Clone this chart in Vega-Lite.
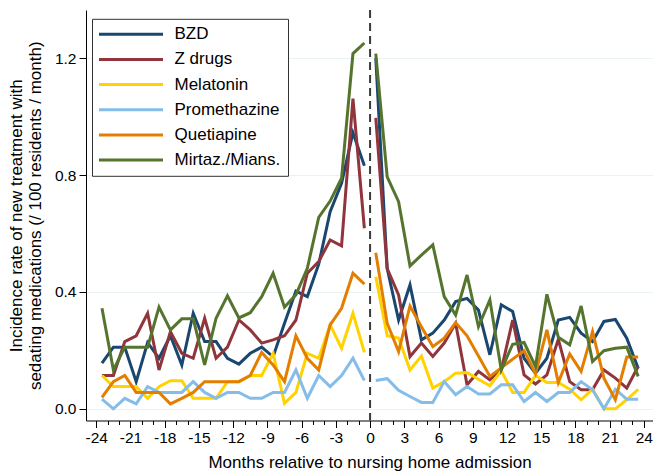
{
"$schema":"https://vega.github.io/schema/vega-lite/v6.json",
"width":567,"height":410.5,
"autosize":{"type":"none"},
"padding":{"left":86,"top":10,"right":0,"bottom":50},
"background":"white",
"config":{"view":{"stroke":null},"font":"Liberation Sans"},
"resolve":{"axis":{"x":"independent"}},
"layer":[
{"data":{"values":[{"x":0}]},"mark":{"type":"rule","strokeDash":[8,5],"strokeWidth":2,"color":"#3a3a3a"},"encoding":{"x":{"field":"x","type":"quantitative","scale":{"domain":[-24.9,24.8],"nice":false,"zero":false},"axis":{"orient":"bottom","title":null,"labels":false,"domain":false,"grid":false,"tickSize":4,"tickColor":"#000","values":[-24,-23,-22,-21,-20,-19,-18,-17,-16,-15,-14,-13,-12,-11,-10,-9,-8,-7,-6,-5,-4,-3,-2,-1,0,1,2,3,4,5,6,7,8,9,10,11,12,13,14,15,16,17,18,19,20,21,22,23,24]}}}},
{"data":{"values":[
{"s":"BZD","p":0,"m":-23.5,"v":0.156},{"s":"BZD","p":0,"m":-22.5,"v":0.211},{"s":"BZD","p":0,"m":-21.5,"v":0.211},{"s":"BZD","p":0,"m":-20.5,"v":0.093},{"s":"BZD","p":0,"m":-19.5,"v":0.227},{"s":"BZD","p":0,"m":-18.5,"v":0.173},{"s":"BZD","p":0,"m":-17.5,"v":0.250},{"s":"BZD","p":0,"m":-16.5,"v":0.150},{"s":"BZD","p":0,"m":-15.5,"v":0.327},{"s":"BZD","p":0,"m":-14.5,"v":0.230},{"s":"BZD","p":0,"m":-13.5,"v":0.230},{"s":"BZD","p":0,"m":-12.5,"v":0.173},{"s":"BZD","p":0,"m":-11.5,"v":0.153},{"s":"BZD","p":0,"m":-10.5,"v":0.190},{"s":"BZD","p":0,"m":-9.5,"v":0.211},{"s":"BZD","p":0,"m":-8.5,"v":0.178},{"s":"BZD","p":0,"m":-7.5,"v":0.293},{"s":"BZD","p":0,"m":-6.5,"v":0.403},{"s":"BZD","p":0,"m":-5.5,"v":0.384},{"s":"BZD","p":0,"m":-4.5,"v":0.495},{"s":"BZD","p":0,"m":-3.5,"v":0.675},{"s":"BZD","p":0,"m":-2.5,"v":0.772},{"s":"BZD","p":0,"m":-1.5,"v":0.945},{"s":"BZD","p":0,"m":-0.5,"v":0.832},
{"s":"BZD","p":1,"m":0.5,"v":1.20},{"s":"BZD","p":1,"m":1.5,"v":0.48},{"s":"BZD","p":1,"m":2.5,"v":0.304},{"s":"BZD","p":1,"m":3.5,"v":0.424},{"s":"BZD","p":1,"m":4.5,"v":0.236},{"s":"BZD","p":1,"m":5.5,"v":0.259},{"s":"BZD","p":1,"m":6.5,"v":0.304},{"s":"BZD","p":1,"m":7.5,"v":0.367},{"s":"BZD","p":1,"m":8.5,"v":0.378},{"s":"BZD","p":1,"m":9.5,"v":0.338},{"s":"BZD","p":1,"m":10.5,"v":0.185},{"s":"BZD","p":1,"m":11.5,"v":0.356},{"s":"BZD","p":1,"m":12.5,"v":0.333},{"s":"BZD","p":1,"m":13.5,"v":0.173},{"s":"BZD","p":1,"m":14.5,"v":0.122},{"s":"BZD","p":1,"m":15.5,"v":0.173},{"s":"BZD","p":1,"m":16.5,"v":0.304},{"s":"BZD","p":1,"m":17.5,"v":0.313},{"s":"BZD","p":1,"m":18.5,"v":0.259},{"s":"BZD","p":1,"m":19.5,"v":0.230},{"s":"BZD","p":1,"m":20.5,"v":0.299},{"s":"BZD","p":1,"m":21.5,"v":0.306},{"s":"BZD","p":1,"m":22.5,"v":0.242},{"s":"BZD","p":1,"m":23.5,"v":0.139},
{"s":"Z drugs","p":0,"m":-23.5,"v":0.114},{"s":"Z drugs","p":0,"m":-22.5,"v":0.114},{"s":"Z drugs","p":0,"m":-21.5,"v":0.230},{"s":"Z drugs","p":0,"m":-20.5,"v":0.250},{"s":"Z drugs","p":0,"m":-19.5,"v":0.327},{"s":"Z drugs","p":0,"m":-18.5,"v":0.133},{"s":"Z drugs","p":0,"m":-17.5,"v":0.264},{"s":"Z drugs","p":0,"m":-16.5,"v":0.190},{"s":"Z drugs","p":0,"m":-15.5,"v":0.173},{"s":"Z drugs","p":0,"m":-14.5,"v":0.310},{"s":"Z drugs","p":0,"m":-13.5,"v":0.173},{"s":"Z drugs","p":0,"m":-12.5,"v":0.211},{"s":"Z drugs","p":0,"m":-11.5,"v":0.304},{"s":"Z drugs","p":0,"m":-10.5,"v":0.270},{"s":"Z drugs","p":0,"m":-9.5,"v":0.225},{"s":"Z drugs","p":0,"m":-8.5,"v":0.236},{"s":"Z drugs","p":0,"m":-7.5,"v":0.250},{"s":"Z drugs","p":0,"m":-6.5,"v":0.304},{"s":"Z drugs","p":0,"m":-5.5,"v":0.464},{"s":"Z drugs","p":0,"m":-4.5,"v":0.504},{"s":"Z drugs","p":0,"m":-3.5,"v":0.578},{"s":"Z drugs","p":0,"m":-2.5,"v":0.558},{"s":"Z drugs","p":0,"m":-1.5,"v":1.062},{"s":"Z drugs","p":0,"m":-0.5,"v":0.618},
{"s":"Z drugs","p":1,"m":0.5,"v":0.996},{"s":"Z drugs","p":1,"m":1.5,"v":0.48},{"s":"Z drugs","p":1,"m":2.5,"v":0.390},{"s":"Z drugs","p":1,"m":3.5,"v":0.179},{"s":"Z drugs","p":1,"m":4.5,"v":0.225},{"s":"Z drugs","p":1,"m":5.5,"v":0.179},{"s":"Z drugs","p":1,"m":6.5,"v":0.225},{"s":"Z drugs","p":1,"m":7.5,"v":0.293},{"s":"Z drugs","p":1,"m":8.5,"v":0.082},{"s":"Z drugs","p":1,"m":9.5,"v":0.128},{"s":"Z drugs","p":1,"m":10.5,"v":0.099},{"s":"Z drugs","p":1,"m":11.5,"v":0.133},{"s":"Z drugs","p":1,"m":12.5,"v":0.304},{"s":"Z drugs","p":1,"m":13.5,"v":0.116},{"s":"Z drugs","p":1,"m":14.5,"v":0.085},{"s":"Z drugs","p":1,"m":15.5,"v":0.116},{"s":"Z drugs","p":1,"m":16.5,"v":0.238},{"s":"Z drugs","p":1,"m":17.5,"v":0.093},{"s":"Z drugs","p":1,"m":18.5,"v":0.065},{"s":"Z drugs","p":1,"m":19.5,"v":0.065},{"s":"Z drugs","p":1,"m":20.5,"v":0.133},{"s":"Z drugs","p":1,"m":21.5,"v":0.105},{"s":"Z drugs","p":1,"m":22.5,"v":0.071},{"s":"Z drugs","p":1,"m":23.5,"v":0.145},
{"s":"Melatonin","p":0,"m":-23.5,"v":0.114},{"s":"Melatonin","p":0,"m":-22.5,"v":0.076},{"s":"Melatonin","p":0,"m":-21.5,"v":0.076},{"s":"Melatonin","p":0,"m":-20.5,"v":0.076},{"s":"Melatonin","p":0,"m":-19.5,"v":0.036},{"s":"Melatonin","p":0,"m":-18.5,"v":0.076},{"s":"Melatonin","p":0,"m":-17.5,"v":0.096},{"s":"Melatonin","p":0,"m":-16.5,"v":0.096},{"s":"Melatonin","p":0,"m":-15.5,"v":0.036},{"s":"Melatonin","p":0,"m":-14.5,"v":0.036},{"s":"Melatonin","p":0,"m":-13.5,"v":0.036},{"s":"Melatonin","p":0,"m":-12.5,"v":0.093},{"s":"Melatonin","p":0,"m":-11.5,"v":0.093},{"s":"Melatonin","p":0,"m":-10.5,"v":0.114},{"s":"Melatonin","p":0,"m":-9.5,"v":0.114},{"s":"Melatonin","p":0,"m":-8.5,"v":0.190},{"s":"Melatonin","p":0,"m":-7.5,"v":0.019},{"s":"Melatonin","p":0,"m":-6.5,"v":0.056},{"s":"Melatonin","p":0,"m":-5.5,"v":0.190},{"s":"Melatonin","p":0,"m":-4.5,"v":0.173},{"s":"Melatonin","p":0,"m":-3.5,"v":0.287},{"s":"Melatonin","p":0,"m":-2.5,"v":0.207},{"s":"Melatonin","p":0,"m":-1.5,"v":0.327},{"s":"Melatonin","p":0,"m":-0.5,"v":0.193},
{"s":"Melatonin","p":1,"m":0.5,"v":0.452},{"s":"Melatonin","p":1,"m":1.5,"v":0.250},{"s":"Melatonin","p":1,"m":2.5,"v":0.242},{"s":"Melatonin","p":1,"m":3.5,"v":0.133},{"s":"Melatonin","p":1,"m":4.5,"v":0.181},{"s":"Melatonin","p":1,"m":5.5,"v":0.071},{"s":"Melatonin","p":1,"m":6.5,"v":0.093},{"s":"Melatonin","p":1,"m":7.5,"v":0.122},{"s":"Melatonin","p":1,"m":8.5,"v":0.124},{"s":"Melatonin","p":1,"m":9.5,"v":0.101},{"s":"Melatonin","p":1,"m":10.5,"v":0.079},{"s":"Melatonin","p":1,"m":11.5,"v":0.130},{"s":"Melatonin","p":1,"m":12.5,"v":0.056},{"s":"Melatonin","p":1,"m":13.5,"v":0.056},{"s":"Melatonin","p":1,"m":14.5,"v":0.114},{"s":"Melatonin","p":1,"m":15.5,"v":0.090},{"s":"Melatonin","p":1,"m":16.5,"v":0.090},{"s":"Melatonin","p":1,"m":17.5,"v":0.067},{"s":"Melatonin","p":1,"m":18.5,"v":0.031},{"s":"Melatonin","p":1,"m":19.5,"v":0.067},{"s":"Melatonin","p":1,"m":20.5,"v":0.0},{"s":"Melatonin","p":1,"m":21.5,"v":0.0},{"s":"Melatonin","p":1,"m":22.5,"v":0.031},{"s":"Melatonin","p":1,"m":23.5,"v":0.067},
{"s":"Promethazine","p":0,"m":-23.5,"v":0.033},{"s":"Promethazine","p":0,"m":-22.5,"v":0.0},{"s":"Promethazine","p":0,"m":-21.5,"v":0.036},{"s":"Promethazine","p":0,"m":-20.5,"v":0.017},{"s":"Promethazine","p":0,"m":-19.5,"v":0.076},{"s":"Promethazine","p":0,"m":-18.5,"v":0.056},{"s":"Promethazine","p":0,"m":-17.5,"v":0.056},{"s":"Promethazine","p":0,"m":-16.5,"v":0.056},{"s":"Promethazine","p":0,"m":-15.5,"v":0.093},{"s":"Promethazine","p":0,"m":-14.5,"v":0.056},{"s":"Promethazine","p":0,"m":-13.5,"v":0.036},{"s":"Promethazine","p":0,"m":-12.5,"v":0.056},{"s":"Promethazine","p":0,"m":-11.5,"v":0.056},{"s":"Promethazine","p":0,"m":-10.5,"v":0.036},{"s":"Promethazine","p":0,"m":-9.5,"v":0.036},{"s":"Promethazine","p":0,"m":-8.5,"v":0.056},{"s":"Promethazine","p":0,"m":-7.5,"v":0.056},{"s":"Promethazine","p":0,"m":-6.5,"v":0.133},{"s":"Promethazine","p":0,"m":-5.5,"v":0.036},{"s":"Promethazine","p":0,"m":-4.5,"v":0.114},{"s":"Promethazine","p":0,"m":-3.5,"v":0.076},{"s":"Promethazine","p":0,"m":-2.5,"v":0.114},{"s":"Promethazine","p":0,"m":-1.5,"v":0.173},{"s":"Promethazine","p":0,"m":-0.5,"v":0.097},
{"s":"Promethazine","p":1,"m":0.5,"v":0.097},{"s":"Promethazine","p":1,"m":1.5,"v":0.103},{"s":"Promethazine","p":1,"m":2.5,"v":0.063},{"s":"Promethazine","p":1,"m":3.5,"v":0.042},{"s":"Promethazine","p":1,"m":4.5,"v":0.022},{"s":"Promethazine","p":1,"m":5.5,"v":0.022},{"s":"Promethazine","p":1,"m":6.5,"v":0.093},{"s":"Promethazine","p":1,"m":7.5,"v":0.048},{"s":"Promethazine","p":1,"m":8.5,"v":0.076},{"s":"Promethazine","p":1,"m":9.5,"v":0.051},{"s":"Promethazine","p":1,"m":10.5,"v":0.051},{"s":"Promethazine","p":1,"m":11.5,"v":0.082},{"s":"Promethazine","p":1,"m":12.5,"v":0.082},{"s":"Promethazine","p":1,"m":13.5,"v":0.025},{"s":"Promethazine","p":1,"m":14.5,"v":0.056},{"s":"Promethazine","p":1,"m":15.5,"v":0.025},{"s":"Promethazine","p":1,"m":16.5,"v":0.056},{"s":"Promethazine","p":1,"m":17.5,"v":0.056},{"s":"Promethazine","p":1,"m":18.5,"v":0.093},{"s":"Promethazine","p":1,"m":19.5,"v":0.065},{"s":"Promethazine","p":1,"m":20.5,"v":0.0},{"s":"Promethazine","p":1,"m":21.5,"v":0.067},{"s":"Promethazine","p":1,"m":22.5,"v":0.033},{"s":"Promethazine","p":1,"m":23.5,"v":0.033},
{"s":"Quetiapine","p":0,"m":-23.5,"v":0.039},{"s":"Quetiapine","p":0,"m":-22.5,"v":0.093},{"s":"Quetiapine","p":0,"m":-21.5,"v":0.114},{"s":"Quetiapine","p":0,"m":-20.5,"v":0.056},{"s":"Quetiapine","p":0,"m":-19.5,"v":0.056},{"s":"Quetiapine","p":0,"m":-18.5,"v":0.056},{"s":"Quetiapine","p":0,"m":-17.5,"v":0.017},{"s":"Quetiapine","p":0,"m":-16.5,"v":0.036},{"s":"Quetiapine","p":0,"m":-15.5,"v":0.056},{"s":"Quetiapine","p":0,"m":-14.5,"v":0.093},{"s":"Quetiapine","p":0,"m":-13.5,"v":0.093},{"s":"Quetiapine","p":0,"m":-12.5,"v":0.093},{"s":"Quetiapine","p":0,"m":-11.5,"v":0.093},{"s":"Quetiapine","p":0,"m":-10.5,"v":0.114},{"s":"Quetiapine","p":0,"m":-9.5,"v":0.193},{"s":"Quetiapine","p":0,"m":-8.5,"v":0.150},{"s":"Quetiapine","p":0,"m":-7.5,"v":0.093},{"s":"Quetiapine","p":0,"m":-6.5,"v":0.250},{"s":"Quetiapine","p":0,"m":-5.5,"v":0.173},{"s":"Quetiapine","p":0,"m":-4.5,"v":0.133},{"s":"Quetiapine","p":0,"m":-3.5,"v":0.287},{"s":"Quetiapine","p":0,"m":-2.5,"v":0.344},{"s":"Quetiapine","p":0,"m":-1.5,"v":0.464},{"s":"Quetiapine","p":0,"m":-0.5,"v":0.427},
{"s":"Quetiapine","p":1,"m":0.5,"v":0.534},{"s":"Quetiapine","p":1,"m":1.5,"v":0.293},{"s":"Quetiapine","p":1,"m":2.5,"v":0.196},{"s":"Quetiapine","p":1,"m":3.5,"v":0.352},{"s":"Quetiapine","p":1,"m":4.5,"v":0.281},{"s":"Quetiapine","p":1,"m":5.5,"v":0.213},{"s":"Quetiapine","p":1,"m":6.5,"v":0.242},{"s":"Quetiapine","p":1,"m":7.5,"v":0.295},{"s":"Quetiapine","p":1,"m":8.5,"v":0.250},{"s":"Quetiapine","p":1,"m":9.5,"v":0.181},{"s":"Quetiapine","p":1,"m":10.5,"v":0.111},{"s":"Quetiapine","p":1,"m":11.5,"v":0.140},{"s":"Quetiapine","p":1,"m":12.5,"v":0.170},{"s":"Quetiapine","p":1,"m":13.5,"v":0.199},{"s":"Quetiapine","p":1,"m":14.5,"v":0.120},{"s":"Quetiapine","p":1,"m":15.5,"v":0.270},{"s":"Quetiapine","p":1,"m":16.5,"v":0.090},{"s":"Quetiapine","p":1,"m":17.5,"v":0.188},{"s":"Quetiapine","p":1,"m":18.5,"v":0.128},{"s":"Quetiapine","p":1,"m":19.5,"v":0.264},{"s":"Quetiapine","p":1,"m":20.5,"v":0.105},{"s":"Quetiapine","p":1,"m":21.5,"v":0.031},{"s":"Quetiapine","p":1,"m":22.5,"v":0.177},{"s":"Quetiapine","p":1,"m":23.5,"v":0.177},
{"s":"Mirtaz./Mians.","p":0,"m":-23.5,"v":0.344},{"s":"Mirtaz./Mians.","p":0,"m":-22.5,"v":0.133},{"s":"Mirtaz./Mians.","p":0,"m":-21.5,"v":0.211},{"s":"Mirtaz./Mians.","p":0,"m":-20.5,"v":0.211},{"s":"Mirtaz./Mians.","p":0,"m":-19.5,"v":0.211},{"s":"Mirtaz./Mians.","p":0,"m":-18.5,"v":0.348},{"s":"Mirtaz./Mians.","p":0,"m":-17.5,"v":0.270},{"s":"Mirtaz./Mians.","p":0,"m":-16.5,"v":0.308},{"s":"Mirtaz./Mians.","p":0,"m":-15.5,"v":0.308},{"s":"Mirtaz./Mians.","p":0,"m":-14.5,"v":0.150},{"s":"Mirtaz./Mians.","p":0,"m":-13.5,"v":0.310},{"s":"Mirtaz./Mians.","p":0,"m":-12.5,"v":0.387},{"s":"Mirtaz./Mians.","p":0,"m":-11.5,"v":0.311},{"s":"Mirtaz./Mians.","p":0,"m":-10.5,"v":0.329},{"s":"Mirtaz./Mians.","p":0,"m":-9.5,"v":0.384},{"s":"Mirtaz./Mians.","p":0,"m":-8.5,"v":0.464},{"s":"Mirtaz./Mians.","p":0,"m":-7.5,"v":0.348},{"s":"Mirtaz./Mians.","p":0,"m":-6.5,"v":0.390},{"s":"Mirtaz./Mians.","p":0,"m":-5.5,"v":0.481},{"s":"Mirtaz./Mians.","p":0,"m":-4.5,"v":0.655},{"s":"Mirtaz./Mians.","p":0,"m":-3.5,"v":0.711},{"s":"Mirtaz./Mians.","p":0,"m":-2.5,"v":0.789},{"s":"Mirtaz./Mians.","p":0,"m":-1.5,"v":1.216},{"s":"Mirtaz./Mians.","p":0,"m":-0.5,"v":1.252},
{"s":"Mirtaz./Mians.","p":1,"m":0.5,"v":1.216},{"s":"Mirtaz./Mians.","p":1,"m":1.5,"v":0.794},{"s":"Mirtaz./Mians.","p":1,"m":2.5,"v":0.709},{"s":"Mirtaz./Mians.","p":1,"m":3.5,"v":0.489},{"s":"Mirtaz./Mians.","p":1,"m":4.5,"v":0.526},{"s":"Mirtaz./Mians.","p":1,"m":5.5,"v":0.561},{"s":"Mirtaz./Mians.","p":1,"m":6.5,"v":0.384},{"s":"Mirtaz./Mians.","p":1,"m":7.5,"v":0.321},{"s":"Mirtaz./Mians.","p":1,"m":8.5,"v":0.458},{"s":"Mirtaz./Mians.","p":1,"m":9.5,"v":0.281},{"s":"Mirtaz./Mians.","p":1,"m":10.5,"v":0.373},{"s":"Mirtaz./Mians.","p":1,"m":11.5,"v":0.133},{"s":"Mirtaz./Mians.","p":1,"m":12.5,"v":0.221},{"s":"Mirtaz./Mians.","p":1,"m":13.5,"v":0.227},{"s":"Mirtaz./Mians.","p":1,"m":14.5,"v":0.145},{"s":"Mirtaz./Mians.","p":1,"m":15.5,"v":0.392},{"s":"Mirtaz./Mians.","p":1,"m":16.5,"v":0.245},{"s":"Mirtaz./Mians.","p":1,"m":17.5,"v":0.219},{"s":"Mirtaz./Mians.","p":1,"m":18.5,"v":0.352},{"s":"Mirtaz./Mians.","p":1,"m":19.5,"v":0.162},{"s":"Mirtaz./Mians.","p":1,"m":20.5,"v":0.199},{"s":"Mirtaz./Mians.","p":1,"m":21.5,"v":0.207},{"s":"Mirtaz./Mians.","p":1,"m":22.5,"v":0.211},{"s":"Mirtaz./Mians.","p":1,"m":23.5,"v":0.111}
]},
"mark":{"type":"line","strokeWidth":3},
"encoding":{
"x":{"field":"m","type":"quantitative","scale":{"domain":[-24.9,24.8],"nice":false,"zero":false},
"axis":{"orient":"bottom","title":"Months relative to nursing home admission","values":[-24,-21,-18,-15,-12,-9,-6,-3,0,3,6,9,12,15,18,21,24],
"labelExpr":"'' + datum.value","tickSize":7,
"grid":false,"domainColor":"#000","tickColor":"#000","labelColor":"#000","titleColor":"#000","labelFontSize":15.5,"titleFontSize":17,"titleFontWeight":"normal","labelPadding":3,"titlePadding":8,"labelOverlap":false,"labelFlush":false,"labelBound":false}},
"y":{"field":"v","type":"quantitative","scale":{"domain":[-0.04,1.365],"nice":false,"zero":false},
"axis":{"title":["Incidence rate of new treatment with","sedating medications (/ 100 residents / month)"],"values":[0,0.4,0.8,1.2],"format":".1f","grid":true,"gridColor":"#eaf2f3","gridWidth":1,"tickSize":7,"domainColor":"#000","tickColor":"#000","labelColor":"#000","titleColor":"#000","labelFontSize":15.5,"titleFontSize":17,"titleFontWeight":"normal","labelPadding":3,"titlePadding":10,"titleLineHeight":19}},
"color":{"field":"s","type":"nominal","scale":{"domain":["BZD","Z drugs","Melatonin","Promethazine","Quetiapine","Mirtaz./Mians."],"range":["#1a476f","#90353b","#ffd200","#85bde8","#e37e00","#55752f"]},
"legend":{"title":null,"orient":"none","legendX":6,"legendY":8.8,"padding":7,"strokeColor":"#333","fillColor":"white","symbolType":"M-16,0h32","symbolSize":16,"symbolStrokeWidth":3,"symbolOffset":23.5,"labelOffset":35,"labelFontSize":17,"labelColor":"#000","rowPadding":7.15,"labelLimit":300}},
"detail":{"field":"p","type":"nominal"}
}}
]
}
